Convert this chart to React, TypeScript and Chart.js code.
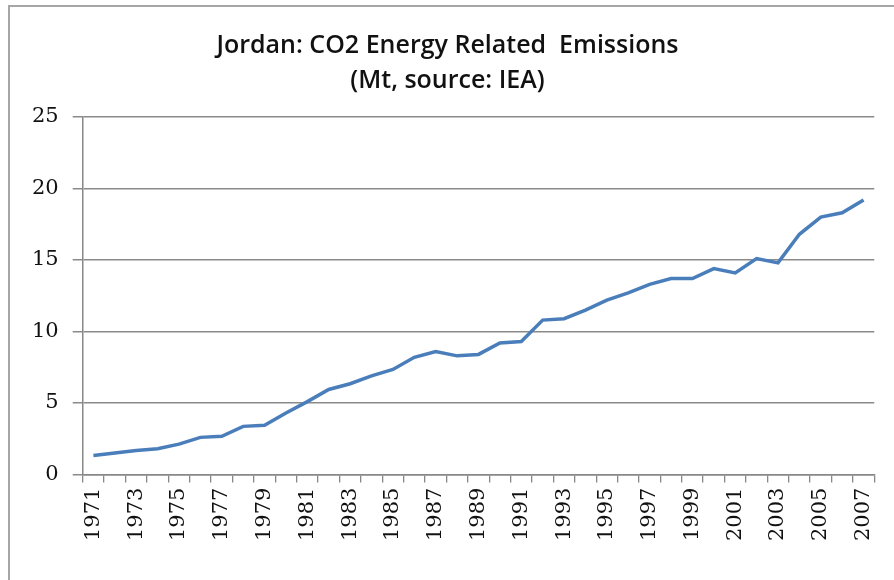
import React, { useEffect, useRef } from "react";
import { Chart, registerables } from "chart.js";

Chart.register(...registerables);

const years: string[] = [
  "1971", "1972", "1973", "1974", "1975", "1976", "1977", "1978", "1979", "1980",
  "1981", "1982", "1983", "1984", "1985", "1986", "1987", "1988", "1989", "1990",
  "1991", "1992", "1993", "1994", "1995", "1996", "1997", "1998", "1999", "2000",
  "2001", "2002", "2003", "2004", "2005", "2006", "2007",
];

const emissions: number[] = [
  1.33, 1.5, 1.68, 1.8, 2.13, 2.6, 2.67, 3.37, 3.45, 4.3,
  5.1, 5.95, 6.35, 6.9, 7.35, 8.2, 8.6, 8.3, 8.4, 9.2,
  9.3, 10.8, 10.9, 11.5, 12.2, 12.7, 13.3, 13.7, 13.7, 14.4,
  14.1, 15.1, 14.8, 16.8, 18.0, 18.3, 19.2,
];

const yTicks = { min: 0, max: 25, step: 5 };

const titleLines: string[] = ["Jordan: CO2 Energy Related  Emissions", "(Mt, source: IEA)"];

export default function App() {
  const ref = useRef<HTMLCanvasElement | null>(null);

  useEffect(() => {
    document.body.style.margin = "0";
    const canvas = ref.current;
    if (!canvas) return;
    const chart = new Chart(canvas, {
      type: "line",
      data: {
        labels: years,
        datasets: [
          {
            data: emissions,
            borderColor: "#4a7ebb",
            borderWidth: 3.5,
            pointRadius: 0,
            tension: 0,
            fill: false,
          },
        ],
      },
      options: {
        responsive: false,
        animation: false,
        layout: { padding: { top: 28, left: 18, right: 17, bottom: 34 } },
        plugins: {
          legend: { display: false },
          tooltip: { enabled: false },
          title: {
            display: true,
            text: titleLines,
            color: "#111",
            font: { family: "'Open Sans'", size: 25, weight: 600, lineHeight: 1.4 },
            padding: { top: 0, bottom: 19 },
          },
        },
        scales: {
          x: {
            type: "category",
            offset: true,
            grid: {
              display: true,
              offset: true,
              drawOnChartArea: false,
              drawTicks: true,
              tickLength: 8,
              color: "#888",
              lineWidth: 1.3,
            },
            border: { display: true, color: "#888", width: 1.5 },
            ticks: {
              autoSkip: false,
              maxRotation: 90,
              minRotation: 90,
              padding: 5,
              color: "#111",
              font: { family: "'DejaVu Serif'", size: 21 },
              callback: (_v: any, i: number) => (i % 2 === 0 ? years[i] : ""),
            },
          },
          y: {
            min: yTicks.min,
            max: yTicks.max,
            ticks: {
              stepSize: yTicks.step,
              padding: 14,
              color: "#111",
              font: { family: "'DejaVu Serif'", size: 21 },
            },
            grid: {
              color: "#8a8a8a",
              lineWidth: 1.5,
              tickLength: 10,
            },
            border: { display: true, color: "#888", width: 1.5 },
          },
        },
      },
    });
    return () => chart.destroy();
  }, []);

  return (
    <div style={{ position: "relative", width: 894, height: 580, background: "#fff", overflow: "hidden" }}>
      <div
        style={{
          position: "absolute",
          left: 8,
          top: 5,
          width: 900,
          height: 600,
          border: "2px solid #a6a6a6",
          boxSizing: "border-box",
        }}
      />
      <canvas ref={ref} width={894} height={580} style={{ position: "absolute", left: 0, top: 0 }} />
    </div>
  );
}
